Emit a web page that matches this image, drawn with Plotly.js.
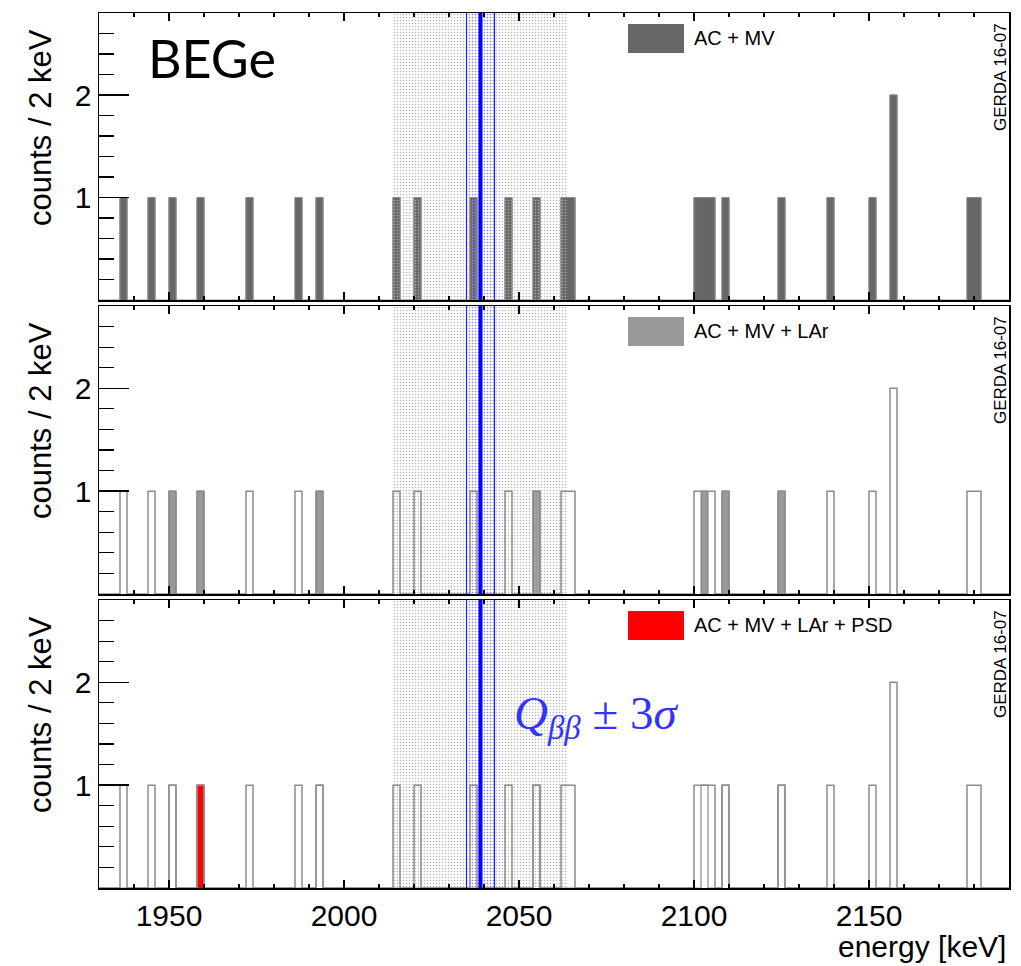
<!DOCTYPE html>
<html>
<head>
<meta charset="utf-8">
<script src="https://cdn.plot.ly/plotly-3.0.1.min.js"></script>
<style>html,body{margin:0;padding:0;background:#fff;}#plot{width:1021px;height:966px;}</style>
</head>
<body>
<div id="plot"></div>
<script>
// ---- data ----
const xMin = 1930, xMax = 2190, binWidth = 2;
const yMax = 2.8;
const xTickVals = [1950, 2000, 2050, 2100, 2150];
const xTickText = ["1950", "2000", "2050", "2100", "2150"];
const yTickVals = [1, 2];
const yTickText = ["1", "2"];
// lower bin edges (keV) and counts per 2 keV bin
const acmvBins   = [1936,1944,1950,1958,1972,1986,1992,2014,2020,2036,2046,2054,2062,2064,2100,2102,2104,2108,2124,2138,2150,2156,2178,2180];
const acmvCounts = [1,1,1,1,1,1,1,1,1,1,1,1,1,1,1,1,1,1,1,1,1,2,1,1];
const larBins    = [1950,1958,1992,2054,2102,2108,2124];
const larCounts  = [1,1,1,1,1,1,1];
const psdBins    = [1958];
const psdCounts  = [1];
const qbb = 2039;
const qbbBand = [2035, 2043];
const bkgWindow = [2014, 2064];
const legendLabels = ["AC + MV", "AC + MV + LAr", "AC + MV + LAr + PSD"];
const detectorLabel = "BEGe";
const stampLabel = "GERDA 16-07";

// ---- helpers ----
const nBins = Math.round((xMax - xMin) / binWidth);
function fullHist(bins, counts) {
  const arr = new Array(nBins).fill(0);
  bins.forEach((b, i) => { arr[Math.round((b - xMin) / binWidth)] += counts[i]; });
  return arr;
}
function stepTrace(bins, counts, xa, ya, color, width) {
  const h = fullHist(bins, counts);
  const xs = [], ys = [];
  for (let i = 0; i <= nBins; i++) { xs.push(xMin + i * binWidth); ys.push(i < nBins ? h[i] : 0); }
  return {type: 'scatter', mode: 'lines', x: xs, y: ys, xaxis: xa, yaxis: ya,
    line: {shape: 'hv', color: color, width: width}, hoverinfo: 'skip', showlegend: false};
}
function barTrace(bins, counts, xa, ya, color, lineColor) {
  return {type: 'bar', x: bins.map(b => b + binWidth / 2), y: counts, width: bins.map(() => binWidth),
    xaxis: xa, yaxis: ya, marker: {color: color, line: {color: lineColor, width: 1}}, showlegend: false};
}
function windowTrace(lo, hi, xa, ya, fg, sol) {
  return {type: 'scatter', mode: 'lines', x: [lo, hi, hi, lo, lo], y: [0, 0, yMax, yMax, 0],
    xaxis: xa, yaxis: ya, fill: 'toself', fillcolor: 'rgba(0,0,0,0)', line: {width: 0},
    fillpattern: {shape: '.', fgcolor: fg, bgcolor: 'rgba(0,0,0,0)', size: 3, solidity: sol},
    hoverinfo: 'skip', showlegend: false};
}

const grey = '#676767', midGrey = '#999999', outline = '#8c8c8c';
const traces = [];
const axes = [['x', 'y'], ['x2', 'y2'], ['x3', 'y3']];
traces.push(barTrace(acmvBins, acmvCounts, 'x', 'y', grey, grey));
traces.push(barTrace(larBins, larCounts, 'x2', 'y2', midGrey, '#7a7a7a'));
traces.push(barTrace(psdBins, psdCounts, 'x3', 'y3', '#ff0000', '#ff0000'));
axes.forEach(([xa, ya]) => {
  traces.push(windowTrace(bkgWindow[0], bkgWindow[1], xa, ya, '#b0b0b0', 0.2));
  traces.push(windowTrace(qbbBand[0], qbbBand[1], xa, ya, '#8080ff', 0.2));
});
traces.push(stepTrace(acmvBins, acmvCounts, 'x', 'y', outline, 1));
traces.push(stepTrace(acmvBins, acmvCounts, 'x2', 'y2', outline, 1.5));
traces.push(stepTrace(acmvBins, acmvCounts, 'x3', 'y3', outline, 1.5));
traces.push(stepTrace(larBins, larCounts, 'x3', 'y3', outline, 1.2));

// ---- layout ----
const T = 13, B = 888, L = 99, R = 1009;
const H = B - T, W = R - L;
const py = p => (B - p) / H;   // pixel y -> paper
const px = p => (p - L) / W;   // pixel x -> paper
const panelTops = [13, 306, 600];
const panelBots = [300, 594, 888];

const tickFont = {family: 'Liberation Sans, Arial, sans-serif', size: 30, color: '#000'};
function xaxis(i) {
  return {range: [xMin, xMax], anchor: 'y' + (i ? i + 1 : ''), domain: [0, 1],
    showline: true, linecolor: '#000', linewidth: 1.5, mirror: 'ticks',
    ticks: 'inside', ticklen: 8, tickwidth: 1.5, tickcolor: '#000',
    tickmode: 'array', tickvals: xTickVals, ticktext: xTickText,
    showticklabels: i === 2, tickfont: tickFont,
    minor: {ticks: 'inside', ticklen: 4, tickwidth: 1.2, tickcolor: '#000', dtick: 10, tick0: 1930, showgrid: false},
    showgrid: false, zeroline: false, fixedrange: true};
}
const minorY = [];
for (let k = 1; k <= 13; k++) { if (k % 5 !== 0) minorY.push(k / 5); }
function yaxis(i) {
  return {range: [0, yMax], anchor: 'x' + (i ? i + 1 : ''),
    domain: [py(panelBots[i]), py(panelTops[i])],
    showline: true, linecolor: '#000', linewidth: 1.5, mirror: true,
    ticks: 'inside', ticklen: 30, tickwidth: 1.5, tickcolor: '#000',
    tickmode: 'array', tickvals: yTickVals, ticktext: yTickText, tickfont: tickFont,
    minor: {ticks: 'inside', ticklen: 15, tickwidth: 1.2, tickcolor: '#000', tickmode: 'array', tickvals: minorY, showgrid: false},
    showgrid: false, zeroline: false, fixedrange: true};
}

const annotations = [], shapes = [];
const legendColors = [grey, midGrey, '#ff0000'];
[0, 1, 2].forEach(i => {
  const top = panelTops[i];
  annotations.push({xref: 'paper', yref: 'paper', x: px(40), y: py(top + 114), text: 'counts / 2 keV',
    textangle: -90, showarrow: false, xanchor: 'center', yanchor: 'middle',
    font: {family: 'Liberation Sans, Arial, sans-serif', size: 31, color: '#000'}});
  annotations.push({xref: 'paper', yref: 'paper', x: px(1000), y: py(top + 64), text: stampLabel,
    textangle: -90, showarrow: false, xanchor: 'center', yanchor: 'middle',
    font: {family: 'Liberation Sans, Arial, sans-serif', size: 17, color: '#000'}});
  annotations.push({xref: 'paper', yref: 'paper', x: px(692), y: py(top + 25), text: legendLabels[i],
    showarrow: false, xanchor: 'left', yanchor: 'middle',
    font: {family: 'Liberation Sans, Arial, sans-serif', size: 20, color: '#000'}});
  shapes.push({type: 'rect', xref: 'paper', yref: 'paper', x0: px(628), x1: px(684),
    y0: py(top + 11), y1: py(top + 40), fillcolor: legendColors[i], line: {width: 0}});
  const ax = i === 0 ? '' : String(i + 1);
  shapes.push({type: 'line', xref: 'x' + ax, yref: 'y' + ax + ' domain', x0: qbb, x1: qbb, y0: 0, y1: 1,
    line: {color: '#0000ff', width: 4}, layer: 'above'});
  qbbBand.forEach(v => shapes.push({type: 'line', xref: 'x' + ax, yref: 'y' + ax + ' domain', x0: v, x1: v, y0: 0, y1: 1,
    line: {color: '#2020ff', width: 1.2}, layer: 'above'}));
});
annotations.push({xref: 'paper', yref: 'paper', x: px(146), y: py(58), text: detectorLabel,
  showarrow: false, xanchor: 'left', yanchor: 'middle',
  font: {family: 'Lato, Open Sans, sans-serif', size: 52, color: '#000'}});
annotations.push({xref: 'paper', yref: 'paper', x: px(512), y: py(716),
  text: '<i>Q</i><sub><i>ββ</i></sub> ± 3<i>σ</i>',
  showarrow: false, xanchor: 'left', yanchor: 'middle',
  font: {family: 'Liberation Serif, DejaVu Serif, serif', size: 47, color: '#3333ff'}});
annotations.push({xref: 'paper', yref: 'paper', x: px(1008), y: py(946), text: 'energy [keV]',
  showarrow: false, xanchor: 'right', yanchor: 'middle',
  font: {family: 'Liberation Sans, Arial, sans-serif', size: 30, color: '#000'}});

const layout = {
  width: 1021, height: 966,
  margin: {l: L, r: 1021 - R, t: T, b: 966 - B, pad: 0},
  paper_bgcolor: '#fff', plot_bgcolor: '#fff',
  showlegend: false, bargap: 0,
  xaxis: xaxis(0), xaxis2: xaxis(1), xaxis3: xaxis(2),
  yaxis: yaxis(0), yaxis2: yaxis(1), yaxis3: yaxis(2),
  annotations: annotations, shapes: shapes
};
Plotly.newPlot('plot', traces, layout, {displayModeBar: false, staticPlot: true});
</script>
</body>
</html>
